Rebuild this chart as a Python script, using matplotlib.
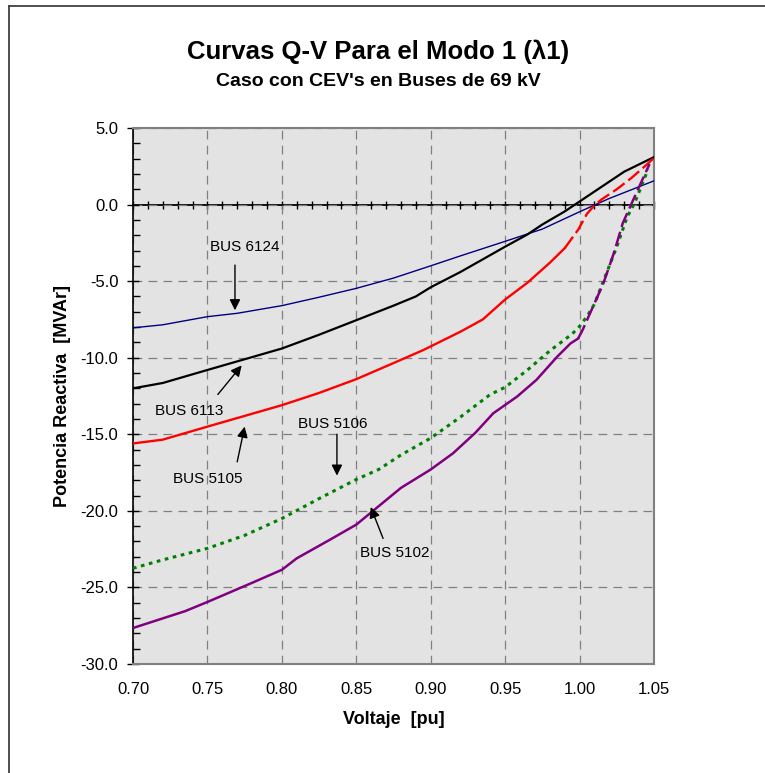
import numpy as np
import matplotlib
matplotlib.use("Agg")
import matplotlib.pyplot as plt
from matplotlib.lines import Line2D
from matplotlib.ticker import MultipleLocator, FormatStrFormatter, NullFormatter

plt.rcParams['font.family'] = ['Liberation Sans', 'DejaVu Sans']

# Voltaje [pu] / Potencia reactiva [MVAr]
v_6124 = [0.70, 0.72, 0.75, 0.77, 0.80, 0.825, 0.85, 0.875, 0.90, 0.92, 0.95, 0.975, 1.00, 1.02, 1.05]
q_6124 = [-8.05, -7.85, -7.32, -7.1, -6.6, -6.05, -5.47, -4.8, -4.0, -3.35, -2.4, -1.6, -0.47, 0.4, 1.55]

v_6113 = [0.70, 0.72, 0.75, 0.775, 0.80, 0.825, 0.85, 0.875, 0.89, 0.90, 0.92, 0.95,
          0.965, 0.975, 0.99, 1.00, 1.01, 1.03, 1.05]
q_6113 = [-12.0, -11.65, -10.8, -10.1, -9.4, -8.5, -7.55, -6.6, -6.0, -5.4, -4.4, -2.75,
          -1.95, -1.3, -0.45, 0.2, 0.85, 2.15, 3.1]

v_5105 = [0.70, 0.72, 0.75, 0.775, 0.80, 0.825, 0.85, 0.875, 0.895, 0.92, 0.935, 0.95,
          0.965, 0.98, 0.99, 0.999, 1.005, 1.01, 1.015, 1.025, 1.035, 1.045, 1.05]
q_5105 = [-15.6, -15.35, -14.5, -13.8, -13.1, -12.3, -11.4, -10.35, -9.5, -8.3, -7.5, -6.2,
          -5.1, -3.8, -2.85, -1.65, -0.6, -0.05, 0.35, 1.0, 1.75, 2.6, 3.05]

v_5106 = [0.70, 0.72, 0.75, 0.775, 0.80, 0.825, 0.85, 0.865, 0.88, 0.90, 0.92, 0.94, 0.95,
          0.965, 0.98, 0.995, 1.00, 1.005, 1.01, 1.018, 1.025, 1.032, 1.037, 1.046]
q_5106 = [-23.75, -23.2, -22.45, -21.6, -20.5, -19.2, -17.95, -17.3, -16.35, -15.25, -13.87, -12.4, -11.93,
          -10.8, -9.55, -8.45, -7.95, -7.3, -6.5, -4.5, -2.75, -0.8, 0.1, 2.3]

v_5102 = [0.70, 0.735, 0.75, 0.78, 0.80, 0.81, 0.832, 0.85, 0.865, 0.88, 0.90, 0.915, 0.93,
          0.942, 0.958, 0.971, 0.985, 0.994, 0.999, 1.002, 1.009, 1.016, 1.023, 1.029, 1.036, 1.047]
q_5102 = [-27.65, -26.55, -25.95, -24.7, -23.85, -23.1, -21.9, -20.9, -19.7, -18.5, -17.3, -16.24, -14.9,
          -13.63, -12.54, -11.45, -9.93, -9.06, -8.75, -8.2, -6.67, -5.14, -3.18, -1.22, 0.3, 2.65]

# labels: (text, text position, arrow tail, arrow head)
labels = [
    ("BUS 6124", (0.7753, -2.8), (0.7685, -3.95), (0.7685, -6.9)),
    ("BUS 6113", (0.738, -13.5), (0.757, -12.4), (0.773, -10.5)),
    ("BUS 5105", (0.750, -17.9), (0.770, -16.8), (0.775, -14.5)),
    ("BUS 5106", (0.834, -14.3), (0.837, -15.0), (0.837, -17.7)),
    ("BUS 5102", (0.876, -22.75), (0.868, -21.8), (0.8597, -19.75)),
]

fig = plt.figure(figsize=(7.65, 7.73), dpi=100)
ax = fig.add_axes([133/765, 1-664/773, (654-133)/765, (664-128)/773])
ax.set_facecolor('#e3e3e3')

ax.plot(v_6124, q_6124, color='#000080', lw=1.0, zorder=3)
ax.plot(v_6113, q_6113, color='black', lw=1.6, zorder=3)

v = np.array(v_5105); q = np.array(q_5105)
m = v <= 0.99
ax.plot(v[m], q[m], color='red', lw=1.7, zorder=3)
m = v >= 0.99
ax.plot(v[m], q[m], color='red', lw=1.7, dashes=(6, 2), zorder=3)

ax.plot(v_5106, q_5106, color='#008000', lw=2.2, dashes=(1.2, 1.5), zorder=3)

v = np.array(v_5102); q = np.array(q_5102)
m = v <= 1.0
ax.plot(v[m], q[m], color='#800080', lw=1.8, zorder=3)
m = v >= 0.999
ax.plot(v[m], q[m], color='#800080', lw=1.8, dashes=(6, 2), zorder=3)

for txt, tpos, tail, head in labels:
    ax.text(tpos[0], tpos[1], txt, fontsize=11, ha='center', va='center', zorder=4)
    ax.annotate('', xy=head, xytext=tail,
                arrowprops=dict(arrowstyle='-|>', color='black', lw=1.0,
                                mutation_scale=16, shrinkA=0, shrinkB=0), zorder=4)

ax.set_xlim(0.70, 1.05)
ax.set_ylim(-30, 5)
ax.xaxis.set_major_locator(MultipleLocator(0.05))
ax.xaxis.set_major_formatter(FormatStrFormatter('%.2f'))
ax.yaxis.set_major_locator(MultipleLocator(5))
ax.yaxis.set_minor_locator(MultipleLocator(1))
ax.yaxis.set_major_formatter(FormatStrFormatter('%.1f'))
ax.grid(True, which='major', color='#808080', lw=0.9, ls=(0, (7, 5)), zorder=1)

ax.tick_params(axis='x', length=0, pad=13, labelsize=12)
ax.tick_params(axis='y', which='major', direction='inout', length=9, width=1, pad=6, labelsize=12)
ax.tick_params(axis='y', which='minor', direction='in', length=5, width=1)

for s in ['top', 'right', 'bottom']:
    ax.spines[s].set_color('#808080')
    ax.spines[s].set_linewidth(1.5)
ax.spines['left'].set_color('black')
ax.spines['left'].set_linewidth(1.2)

# x axis crossing at Q = 0
sec = ax.secondary_xaxis(30/35)
for s in sec.spines.values():
    s.set_color('black')
    s.set_linewidth(1.3)
sec.xaxis.set_major_locator(MultipleLocator(0.05))
sec.xaxis.set_minor_locator(MultipleLocator(0.01))
sec.xaxis.set_major_formatter(NullFormatter())
sec.tick_params(which='both', direction='inout', length=6, width=1,
                labelbottom=False, labeltop=False)

ax.set_xlabel('Voltaje  [pu]', fontsize=13, fontweight='bold', labelpad=10)
ax.set_ylabel('Potencia Reactiva  [MVAr]', fontsize=13, fontweight='bold', labelpad=7)

fig.text(378/765, 1-52/773, 'Curvas Q-V Para el Modo 1 (λ1)', fontsize=18.5,
         fontweight='bold', ha='center', va='center')
fig.text(378/765, 1-81/773, "Caso con CEV's en Buses de 69 kV", fontsize=14,
         fontweight='bold', ha='center', va='center')

# outer frame
fig.add_artist(Line2D([9/765, 9/765], [0, 1-6/773], color='#404040', lw=1.3))
fig.add_artist(Line2D([9/765, 1], [1-6/773, 1-6/773], color='#404040', lw=1.3))

fig.savefig('out.png', dpi=100)
